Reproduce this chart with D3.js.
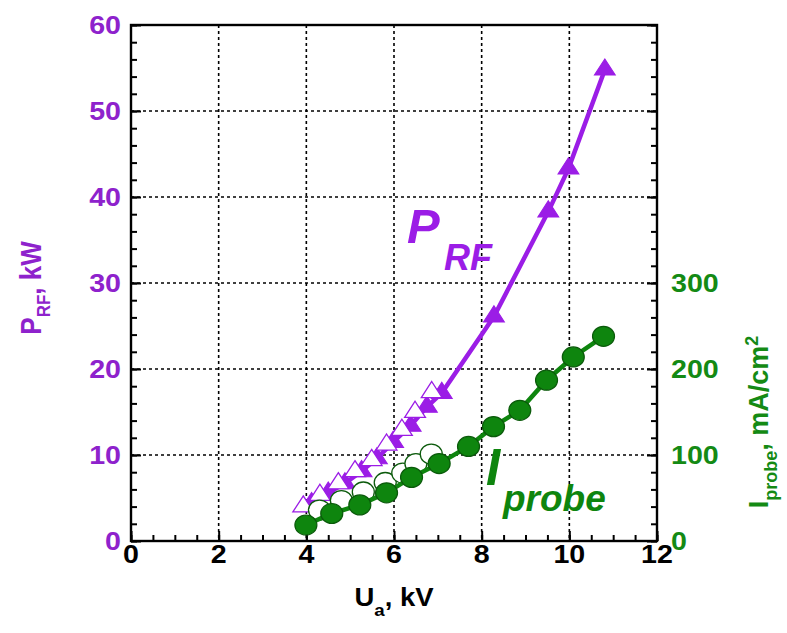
<!DOCTYPE html>
<html><head><meta charset="utf-8">
<script src="https://cdn.jsdelivr.net/npm/d3@7"></script>
<style>
body{margin:0;background:#fff}
svg{display:block}
text{font-family:"Liberation Sans",Arial,sans-serif;font-weight:bold}
</style>
</head><body>
<svg id="c" width="787" height="633"></svg>
<script>
// ---- data ----
const uTicks = [0, 2, 4, 6, 8, 10, 12];
const pTicks = [0, 10, 20, 30, 40, 50, 60];
const iTicks = [0, 100, 200, 300];

const triFilledU = [4.12, 4.50, 4.88, 5.26, 5.61, 5.98, 6.38, 6.75, 7.09, 8.28, 9.52, 9.98, 10.81];
const triFilledP = [4.4, 5.6, 6.7, 8.1, 9.6, 11.5, 13.4, 15.6, 17.2, 26.1, 38.3, 43.3, 54.8];
const triOpenU = [3.93, 4.31, 4.73, 5.11, 5.49, 5.83, 6.18, 6.48, 6.86];
const triOpenP = [4.0, 5.35, 6.7, 8.1, 9.4, 11.2, 12.9, 15.0, 17.3];

const circFilledU = [3.99, 4.58, 5.22, 5.83, 6.40, 7.03, 7.70, 8.27, 8.87, 9.48, 10.09, 10.78];
const circFilledI = [18.6, 32, 42, 56, 74, 90, 110, 133, 152, 187, 214, 238];
const circOpenU = [4.3, 4.8, 5.3, 5.8, 6.2, 6.5, 6.85];
const circOpenI = [36, 47, 57, 68, 79, 90, 101];

// ---- layout ----
const L = 131, R = 657, T = 25, B = 541;
const SX = 1.1; // horizontal stretch of the reference text
const purple = "#9b1de6", purpleText = "#8e22cc";
const green = "#0e850e", greenDark = "#0b5a0b", greenText = "#148a14";

const x = d3.scaleLinear().domain([0, 12]).range([L, R]);
const y = d3.scaleLinear().domain([0, 60]).range([B, T]);
const yR = d3.scaleLinear().domain([0, 600]).range([B, T]);

const svg = d3.select("#c");

// grid
const grid = svg.append("g").attr("stroke", "#000").attr("stroke-width", 1.6).attr("stroke-dasharray", "3,3");
grid.selectAll(".gx").data(uTicks.slice(1, -1)).join("line")
  .attr("x1", d => x(d)).attr("x2", d => x(d)).attr("y1", T).attr("y2", B);
grid.selectAll(".gy").data(pTicks.slice(1, -1)).join("line")
  .attr("y1", d => y(d)).attr("y2", d => y(d)).attr("x1", L).attr("x2", R);

// ticks
function styleAxis(g) {
  g.select(".domain").remove();
  g.selectAll(".tick line").attr("stroke", "#000").attr("stroke-width", 2);
  g.selectAll(".tick text").remove();
}
svg.append("g").attr("transform", `translate(0,${B})`)
  .call(d3.axisBottom(x).tickValues(d3.range(0, 12.001, 0.5)).tickSize(-6)).call(styleAxis);
svg.append("g").attr("transform", `translate(0,${B})`)
  .call(d3.axisBottom(x).tickValues(uTicks).tickSize(-10)).call(styleAxis);
svg.append("g").attr("transform", `translate(${L},0)`)
  .call(d3.axisLeft(y).tickValues(d3.range(0, 60.001, 2)).tickSize(-6)).call(styleAxis);
svg.append("g").attr("transform", `translate(${L},0)`)
  .call(d3.axisLeft(y).tickValues(pTicks).tickSize(-10)).call(styleAxis);
svg.append("g").attr("transform", `translate(${R},0)`)
  .call(d3.axisRight(yR).tickValues(d3.range(0, 600.001, 20)).tickSize(-6)).call(styleAxis);
svg.append("g").attr("transform", `translate(${R},0)`)
  .call(d3.axisRight(yR).tickValues(d3.range(0, 600.001, 100)).tickSize(-10)).call(styleAxis);

// frame
svg.append("rect").attr("x", L).attr("y", T).attr("width", R - L).attr("height", B - T)
  .attr("fill", "none").attr("stroke", "#000").attr("stroke-width", 2.4);

// tick labels
svg.append("g").selectAll("text").data(uTicks).join("text")
  .attr("transform", d => `translate(${x(d)},563) scale(${SX},1)`)
  .attr("text-anchor", "middle").attr("font-size", 26).attr("fill", "#000").text(d => d);
svg.append("g").selectAll("text").data(pTicks).join("text")
  .attr("transform", d => `translate(${L - 10},${y(d) + 9}) scale(${SX},1)`)
  .attr("text-anchor", "end").attr("font-size", 26).attr("fill", purpleText).text(d => d);
svg.append("g").selectAll("text").data(iTicks).join("text")
  .attr("transform", d => `translate(${R + 14},${yR(d) + 9}) scale(${SX},1)`)
  .attr("text-anchor", "start").attr("font-size", 26).attr("fill", greenText).text(d => d);

// axis titles
const tx = svg.append("text").attr("transform", `translate(${(L + R) / 2},606) scale(${SX},1)`)
  .attr("text-anchor", "middle").attr("font-size", 25).attr("fill", "#000");
tx.append("tspan").text("U");
tx.append("tspan").attr("font-size", 17).attr("dy", 10).text("a");
tx.append("tspan").attr("dy", -10).text(", kV");

const tl = svg.append("text").attr("transform", `translate(41,288) scale(${SX},1) rotate(-90)`)
  .attr("text-anchor", "middle").attr("font-size", 26).attr("fill", purpleText);
tl.append("tspan").text("P");
tl.append("tspan").attr("font-size", 17).attr("dy", 8).text("RF");
tl.append("tspan").attr("dy", -8).text(", kW");

const tr = svg.append("text").attr("transform", `translate(768,422) scale(1.05,1) rotate(-90)`)
  .attr("text-anchor", "middle").attr("font-size", 27).attr("fill", greenText);
tr.append("tspan").text("I");
tr.append("tspan").attr("font-size", 18).attr("dy", 9).text("probe");
tr.append("tspan").attr("dy", -9).text(", mA/cm");
tr.append("tspan").attr("font-size", 18).attr("dy", -10).text("2");

// data lines & markers
const line = d3.line().x(d => x(d[0]));
const triFilled = triFilledU.map((u, i) => [u, triFilledP[i]]);
const triOpen = triOpenU.map((u, i) => [u, triOpenP[i]]);
const circFilled = circFilledU.map((u, i) => [u, circFilledI[i]]);
const circOpen = circOpenU.map((u, i) => [u, circOpenI[i]]);
const tri = d3.symbol(d3.symbolTriangle, 150);

svg.append("path").datum(triFilled).attr("fill", "none").attr("stroke", purple).attr("stroke-width", 4.5)
  .attr("d", line.y(d => y(d[1])));
svg.append("g").selectAll("path").data(triFilled).join("path")
  .attr("d", tri).attr("transform", d => `translate(${x(d[0])},${y(d[1])}) scale(1.12,1)`)
  .attr("fill", purple).attr("stroke", purple).attr("stroke-width", 1);
svg.append("g").selectAll("path").data(triOpen).join("path")
  .attr("d", tri).attr("transform", d => `translate(${x(d[0])},${y(d[1])}) scale(1.12,1)`)
  .attr("fill", "#fff").attr("stroke", purple).attr("stroke-width", 1.2);

svg.append("g").selectAll("ellipse").data(circOpen).join("ellipse")
  .attr("cx", d => x(d[0])).attr("cy", d => yR(d[1])).attr("rx", 11).attr("ry", 10)
  .attr("fill", "#fff").attr("stroke", greenDark).attr("stroke-width", 1.3);
svg.append("path").datum(circFilled).attr("fill", "none").attr("stroke", green).attr("stroke-width", 4.5)
  .attr("d", line.y(d => yR(d[1])));
svg.append("g").selectAll("ellipse").data(circFilled).join("ellipse")
  .attr("cx", d => x(d[0])).attr("cy", d => yR(d[1])).attr("rx", 11).attr("ry", 10)
  .attr("fill", green).attr("stroke", greenDark).attr("stroke-width", 1.2);

// annotations
const ap = svg.append("text").attr("fill", purple).attr("font-style", "italic");
ap.append("tspan").attr("x", 407).attr("y", 243).attr("font-size", 49).text("P");
ap.append("tspan").attr("x", 444).attr("y", 270).attr("font-size", 36).text("RF");

const ai = svg.append("text").attr("fill", green).attr("font-style", "italic");
ai.append("tspan").attr("x", 486).attr("y", 485).attr("font-size", 51).text("I");
ai.append("tspan").attr("x", 503).attr("y", 511).attr("font-size", 37).text("probe");
</script>
</body></html>
